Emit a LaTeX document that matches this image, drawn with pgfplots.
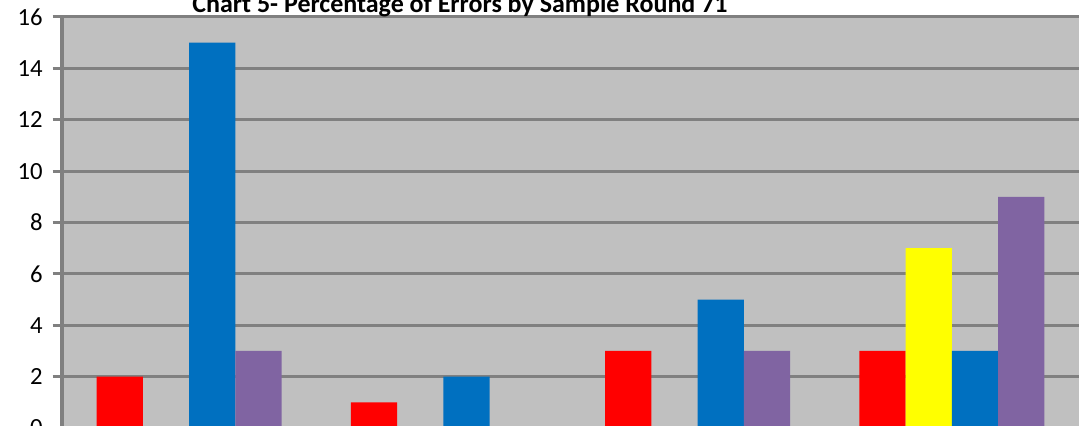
\documentclass[border=0pt]{standalone}
\usepackage{pgfplots}
\pgfplotsset{compat=1.18}
\usepackage{fontspec}
\setmainfont{Carlito}
\definecolor{bg}{HTML}{C0C0C0}
\definecolor{gridc}{HTML}{808080}
\definecolor{cred}{HTML}{FF0000}
\definecolor{cyel}{HTML}{FFFF00}
\definecolor{cblue}{HTML}{0070C0}
\definecolor{cpurp}{HTML}{8064A2}
\begin{document}
\begin{tikzpicture}
\begin{axis}[
  name=ax, anchor=south west, at={(0,0)},
  scale only axis,
  width=762.75pt, height=308.25pt,
  xmin=-0.5, xmax=3.5, ymin=0, ymax=16,
  ybar=0pt, bar width=0.182,
  xtick=\empty,
  ytick={0,2,4,6,8,10,12,14,16},
  ymajorgrids,
  grid style={color=gridc, line width=2.25pt},
  axis background/.style={fill=bg},
  axis lines*=left,
  x axis line style={draw=none},
  y axis line style={color=gridc, line width=3pt},
  tick style={color=gridc, line width=2.25pt},
  major tick length=7pt,
  tick align=outside,
  yticklabel style={font=\fontsize{18.5}{20}\selectfont, xshift=-4pt},
  /pgf/number format/assume math mode=true,
  clip=false,
]
\addplot[fill=cred, draw=none] coordinates {(0,2) (1,1) (2,3) (3,3)};
\addplot[fill=cyel, draw=none] coordinates {(0,0) (1,0) (2,0) (3,7)};
\addplot[fill=cblue, draw=none] coordinates {(0,15) (1,2) (2,5) (3,3)};
\addplot[fill=cpurp, draw=none] coordinates {(0,3) (1,0) (2,3) (3,9)};
\end{axis}
\node[anchor=base, font=\fontsize{19.5}{21}\selectfont\bfseries] at (298.5pt,311.5pt) {Chart 5- Percentage of Errors by Sample Round 71};
\pgfresetboundingbox
\path[use as bounding box] (-46.5pt,2.25pt) rectangle (767.25pt,321pt);
\end{tikzpicture}
\end{document}
